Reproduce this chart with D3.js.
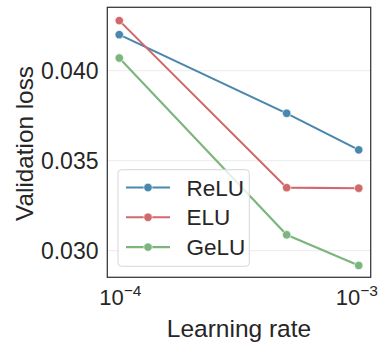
<!DOCTYPE html>
<html>
<head>
<meta charset="utf-8">
<script src="https://cdn.jsdelivr.net/npm/d3@7"></script>
<style>
  html, body { margin: 0; padding: 0; background: #fff; }
  svg { display: block; font-family: "Liberation Sans", Arial, sans-serif; }
</style>
</head>
<body>
<svg id="chart" width="379" height="345"></svg>
<script>
const learningRates = [1e-4, 5e-4, 1e-3];
const seriesNames = ["ReLU", "ELU", "GeLU"];
const reluValues = [0.0420, 0.03763, 0.0356];
const eluValues = [0.04278, 0.03350, 0.03347];
const geluValues = [0.0407, 0.03088, 0.02918];
const seriesColors = ["#4a87ac", "#d0696c", "#7db57e"];
const yTicks = [0.030, 0.035, 0.040];
const yTickLabels = ["0.030", "0.035", "0.040"];
const xTicks = [1e-4, 1e-3];
const xTickExponents = ["\u22124", "\u22123"];

const series = [reluValues, eluValues, geluValues];

(function () {
const svg = d3.select("#chart");
const pLeft = 107.3, pRight = 370.7, pTop = 7.3, pBottom = 277.3;
const textColor = "#262626";

const x = d3.scaleLog().domain([Math.pow(10, -4.05), Math.pow(10, -2.95)]).range([pLeft, pRight]);
const y = d3.scaleLinear().domain([0.02852, 0.04352]).range([pBottom, pTop]);

// grid
svg.append("g").selectAll("line").data(yTicks).join("line")
  .attr("x1", pLeft).attr("x2", pRight)
  .attr("y1", d => y(d)).attr("y2", d => y(d))
  .attr("stroke", "#ebebeb").attr("stroke-width", 1);

// y tick labels
svg.append("g").selectAll("text").data(yTicks).join("text")
  .attr("x", 98.5).attr("y", d => y(d))
  .attr("dy", "0.36em")
  .attr("text-anchor", "end")
  .attr("font-size", 23).attr("fill", textColor)
  .text((d, i) => yTickLabels[i]);

// x tick labels
const xt = svg.append("g").selectAll("text").data(xTicks).join("text")
  .attr("x", d => x(d) + 1).attr("y", 305)
  .attr("text-anchor", "middle")
  .attr("font-size", 22).attr("fill", textColor);
xt.append("tspan").text("10");
xt.append("tspan").attr("font-size", 15.5).attr("dy", -9).text((d, i) => xTickExponents[i]);
// keep labels inside the canvas
xt.each(function () {
  const bb = this.getBBox();
  const over = bb.x + bb.width - 378;
  if (over > 0) d3.select(this).attr("x", +d3.select(this).attr("x") - over);
});

// lines
const line = d3.line().x((d, i) => x(learningRates[i])).y(d => y(d));
const plot = svg.append("g");
series.forEach((vals, s) => {
  plot.append("path").datum(vals)
    .attr("d", line)
    .attr("fill", "none")
    .attr("stroke", seriesColors[s])
    .attr("stroke-width", 2.1);
  plot.append("g").selectAll("circle").data(vals).join("circle")
    .attr("cx", (d, i) => x(learningRates[i]))
    .attr("cy", d => y(d))
    .attr("r", 4.2)
    .attr("fill", seriesColors[s])
    .attr("stroke", "#fff").attr("stroke-width", 0.6);
});

// legend
const lg = svg.append("g");
lg.append("rect")
  .attr("x", 118).attr("y", 169.7).attr("width", 131.3).attr("height", 96.6)
  .attr("rx", 3.5)
  .attr("fill", "#fff").attr("fill-opacity", 0.8)
  .attr("stroke", "#d6d6d6").attr("stroke-width", 1);
seriesNames.forEach((name, s) => {
  const ry = 187.5 + s * 29.8;
  lg.append("line").attr("x1", 126).attr("x2", 170).attr("y1", ry).attr("y2", ry)
    .attr("stroke", seriesColors[s]).attr("stroke-width", 2.1);
  lg.append("circle").attr("cx", 148).attr("cy", ry).attr("r", 4.2)
    .attr("fill", seriesColors[s]).attr("stroke", "#fff").attr("stroke-width", 0.6);
  lg.append("text").attr("x", 186.5).attr("y", ry).attr("dy", "0.36em")
    .attr("font-size", 22.5).attr("fill", textColor).text(name);
});

// frame
svg.append("rect")
  .attr("x", pLeft).attr("y", pTop).attr("width", pRight - pLeft).attr("height", pBottom - pTop)
  .attr("fill", "none").attr("stroke", "#333").attr("stroke-width", 1.25);

// axis labels
svg.append("text")
  .attr("x", 239).attr("y", 337)
  .attr("text-anchor", "middle")
  .attr("font-size", 24.5).attr("fill", textColor)
  .text("Learning rate");
svg.append("text")
  .attr("transform", "translate(32.5,143.5) rotate(-90)")
  .attr("text-anchor", "middle")
  .attr("font-size", 24.3).attr("fill", textColor)
  .text("Validation loss");
})();
</script>
</body>
</html>
